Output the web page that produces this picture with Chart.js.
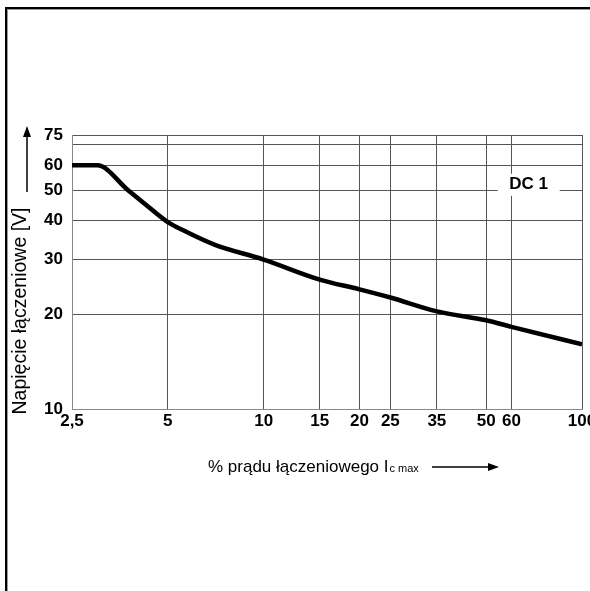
<!DOCTYPE html>
<html>
<head>
<meta charset="utf-8">
<script src="https://cdn.jsdelivr.net/npm/chart.js@4/dist/chart.umd.min.js"></script>
<style>
  html, body { margin: 0; padding: 0; background: #fff; }
  #wrap { width: 590px; height: 591px; position: relative; }
</style>
</head>
<body>
<div id="wrap"><canvas id="curveChart"></canvas></div>
<script>
// Dane (DC1)
const currentPct = [2.5, 3, 3.75, 4.2, 5, 5.65, 7, 10, 15, 20, 25, 35, 50, 60, 100];
const voltage = [60, 60, 50, 45.5, 39.5, 37, 33.5, 30, 25.9, 24.1, 22.7, 20.5, 19.2, 18.3, 16.1];

const xTicks = [2.5, 5, 10, 15, 20, 25, 35, 50, 60, 100];
const xTickLabels = ['2,5', '5', '10', '15', '20', '25', '35', '50', '60', '100'];
const yTicks = [10, 20, 30, 40, 50, 60, 70, 75];
const yTickLabels = ['10', '20', '30', '40', '50', '60', '', '75'];

const curveLabel = 'DC 1';
const labelPos = { x: 68, y: 52 };

const FONT = "'Liberation Sans', Arial, sans-serif";

function arrow(ctx, x1, y1, x2, y2) {
    const ang = Math.atan2(y2 - y1, x2 - x1);
    ctx.beginPath();
    ctx.moveTo(x1, y1);
    ctx.lineTo(x2 - 9 * Math.cos(ang), y2 - 9 * Math.sin(ang));
    ctx.lineWidth = 1.5;
    ctx.strokeStyle = '#000';
    ctx.stroke();
    ctx.beginPath();
    ctx.moveTo(x2, y2);
    ctx.lineTo(x2 - 11 * Math.cos(ang) - 4 * Math.sin(ang), y2 - 11 * Math.sin(ang) + 4 * Math.cos(ang));
    ctx.lineTo(x2 - 11 * Math.cos(ang) + 4 * Math.sin(ang), y2 - 11 * Math.sin(ang) - 4 * Math.cos(ang));
    ctx.closePath();
    ctx.fillStyle = '#000';
    ctx.fill();
}

// Ramka, tytuły osi i strzałki
const decorPlugin = {
    id: 'decor',
    afterDraw(chart) {
        const ctx = chart.ctx;
        const xs = chart.scales.x, ys = chart.scales.y;
        ctx.save();

        // ramka
        ctx.strokeStyle = '#000';
        ctx.lineWidth = 2;
        ctx.strokeRect(6, 8, 700, 700);
        ctx.strokeStyle = '#999';
        ctx.lineWidth = 1;
        ctx.strokeRect(7.5, 9.5, 700, 700);

        // etykieta krzywej
        const lx = xs.getPixelForValue(labelPos.x);
        const ly = ys.getPixelForValue(labelPos.y);
        ctx.font = 'bold 17px ' + FONT;
        ctx.textAlign = 'center';
        ctx.textBaseline = 'middle';
        ctx.fillStyle = '#fff';
        ctx.fillRect(lx - 31, ly - 11, 62, 22);
        ctx.fillStyle = '#000';
        ctx.fillText(curveLabel, lx, ly);

        // tytuł osi Y
        ctx.save();
        ctx.translate(21, 311);
        ctx.rotate(-Math.PI / 2);
        ctx.font = '19.5px ' + FONT;
        ctx.textAlign = 'center';
        ctx.textBaseline = 'middle';
        ctx.fillText('Napięcie łączeniowe [V]', 0, 0);
        ctx.restore();
        arrow(ctx, 27, 192, 27, 126);

        // tytuł osi X
        ctx.font = '17px ' + FONT;
        ctx.textAlign = 'left';
        ctx.textBaseline = 'alphabetic';
        const main = '% prądu łączeniowego I';
        ctx.fillText(main, 208, 472);
        const w = ctx.measureText(main).width;
        ctx.font = '11px ' + FONT;
        ctx.fillText('c max', 208 + w + 1, 472);
        arrow(ctx, 432, 467, 499, 467);

        ctx.restore();
    }
};

const ctx = document.getElementById('curveChart').getContext('2d');
new Chart(ctx, {
    type: 'line',
    data: {
        datasets: [{
            label: curveLabel,
            data: currentPct.map((x, i) => ({ x: x, y: voltage[i] })),
            borderColor: '#000',
            borderWidth: 4.5,
            pointRadius: 0,
            cubicInterpolationMode: 'monotone',
            fill: false
        }]
    },
    options: {
        responsive: true,
        maintainAspectRatio: false,
        animation: false,
        layout: {
            padding: { left: 0, top: 135, right: 8, bottom: 0 }
        },
        plugins: {
            legend: { display: false },
            tooltip: { enabled: false }
        },
        scales: {
            x: {
                type: 'logarithmic',
                min: 2.5,
                max: 100,
                afterBuildTicks: (scale) => { scale.ticks = xTicks.map(v => ({ value: v })); },
                afterFit: (scale) => { scale.height = 182; scale.paddingRight = 0; scale.paddingLeft = 0; },
                ticks: {
                    autoSkip: false,
                    maxRotation: 0,
                    padding: 2,
                    color: '#000',
                    font: { family: FONT, size: 17, weight: 'bold' },
                    callback: (value) => {
                        const i = xTicks.indexOf(value);
                        return i >= 0 ? xTickLabels[i] : '';
                    }
                },
                grid: { color: '#555', lineWidth: 1, drawTicks: false },
                border: { display: true, color: '#888', width: 1 }
            },
            y: {
                type: 'logarithmic',
                min: 10,
                max: 75,
                afterBuildTicks: (scale) => { scale.ticks = yTicks.map(v => ({ value: v })); },
                afterFit: (scale) => { scale.width = 72; scale.paddingTop = 0; scale.paddingBottom = 0; },
                ticks: {
                    autoSkip: false,
                    padding: 9,
                    color: '#000',
                    font: { family: FONT, size: 17, weight: 'bold' },
                    callback: (value) => {
                        const i = yTicks.indexOf(value);
                        return i >= 0 ? yTickLabels[i] : '';
                    }
                },
                grid: { color: '#555', lineWidth: 1, drawTicks: false },
                border: { display: true, color: '#888', width: 1 }
            }
        }
    },
    plugins: [decorPlugin]
});
</script>
</body>
</html>
